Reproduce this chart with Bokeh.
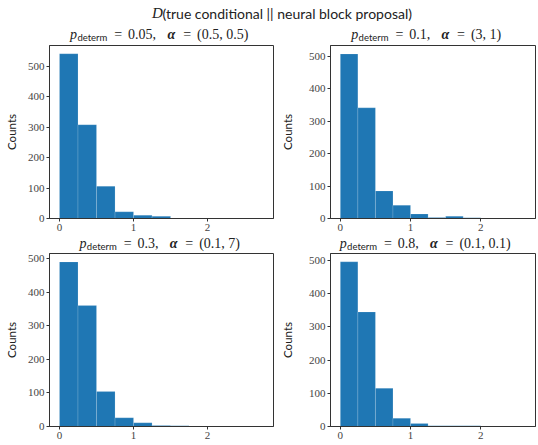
from bokeh.plotting import figure
from bokeh.layouts import column, row
from bokeh.models import Range1d, FixedTicker, Label
from bokeh.embed import file_html
from bokeh.resources import INLINE

# ---------------- data ----------------
bin_edges = [0.0, 0.25, 0.5, 0.75, 1.0, 1.25, 1.5, 1.75, 2.0, 2.25, 2.5, 2.75]
counts_a = [541, 308, 106, 22, 11, 7, 2, 0, 0, 0, 0]
counts_b = [507, 341, 85, 41, 14, 3, 7, 2, 0, 0, 0]
counts_c = [490, 360, 104, 26, 11, 3, 2, 0, 0, 0, 0]
counts_d = [496, 345, 115, 25, 9, 2, 2, 2, 0, 0, 0]
p_determ = ["0.05", "0.1", "0.3", "0.8"]
alphas = ["(0.5, 0.5)", "(3, 1)", "(0.1, 7)", "(0.1, 0.1)"]
x_ticks = [0, 1, 2]
y_ticks = [0, 100, 200, 300, 400, 500]
x_limits = [(-0.135, 2.89), (-0.14, 2.78), (-0.135, 2.89), (-0.14, 2.78)]
y_max = [568, 533, 515, 521]
sup_title = "(true conditional || neural block proposal)"

# ---------------- styling ----------------
SERIF = "Liberation Serif"
SANS = "Lato"
BAR = "#1f77b4"
INK = "#333333"
TXT = "#222222"
FS = 14.0      # title glyph size
EM = 14.8      # spacing unit used to lay title tokens out
MID = 0.32     # baseline -> middle of text box, in em

cm_w = {'0': .5, '1': .5, '2': .5, '3': .5, '4': .5, '5': .5, '6': .5,
        '7': .5, '8': .5, '9': .5, '.': .278, ',': .278, '(': .389, ')': .389}


def cm_width(s):
    return sum(cm_w.get(c, .5) for c in s if c != ' ') * EM


def strip(width, height):
    p = figure(width=width, height=height, x_range=Range1d(0, width),
               y_range=Range1d(0, height), output_backend="svg",
               toolbar_location=None, min_border=0, title=None,
               x_axis_type=None, y_axis_type=None)
    p.grid.visible = False
    p.outline_line_color = None
    return p


def lab(p, h, x, base, text, font, style, size, align="left"):
    # base: baseline position measured from the strip's top, in pixels
    y = h - (base - MID * size)
    p.add_layout(Label(x=x, y=y, text=text, text_font=font, text_font_style=style,
                       text_font_size=f"{size:.1f}px", text_color=TXT,
                       text_align=align, text_baseline="middle"))


def title_strip(width, height, center, base, pd, al):
    p = strip(width, height)
    sub = 0.68 * FS
    thick = 0.278 * EM
    eq = 0.778 * EM
    w_p = 0.503 * EM
    w_sub = 2.98 * 0.7 * EM
    w_val = cm_width(pd + ",")
    gap = 0.62 * EM
    w_al = 0.66 * EM
    w_par = cm_width(al) + 0.167 * EM * al.count(",")
    total = w_p + w_sub + thick + eq + thick + w_val + gap + w_al + thick + eq + thick + w_par
    x = center - total / 2.0
    lab(p, height, x, base, "p", SERIF, "italic", FS)
    x += w_p
    lab(p, height, x, base + 2.0, "determ", SANS, "normal", sub)
    x += w_sub + thick
    lab(p, height, x + eq / 2, base, "=", SERIF, "normal", FS, "center")
    x += eq + thick
    lab(p, height, x, base, pd + ",", SERIF, "normal", FS)
    x += w_val + gap
    lab(p, height, x, base, "\u03b1", SERIF, "bold italic", FS)
    x += w_al + thick
    lab(p, height, x + eq / 2, base, "=", SERIF, "normal", FS, "center")
    x += eq + thick
    lab(p, height, x, base, al, SERIF, "normal", FS)
    return p


def make_hist(counts, xl, ymax, width, height, left, right, top, bottom, label_gap):
    p = figure(width=width, height=height, title=None,
               x_range=Range1d(*xl), y_range=Range1d(0, ymax),
               output_backend="svg", toolbar_location=None,
               min_border_left=left, min_border_right=right,
               min_border_top=top, min_border_bottom=bottom,
               background_fill_color="white", border_fill_color="white")
    lefts = [bin_edges[i] for i, c in enumerate(counts) if c > 0]
    rights = [bin_edges[i + 1] for i, c in enumerate(counts) if c > 0]
    tops = [c for c in counts if c > 0]
    p.quad(left=lefts, right=rights, top=tops, bottom=0,
           fill_color=BAR, line_color="white", line_alpha=0.25, line_width=0.6)
    p.grid.visible = False
    p.outline_line_color = INK
    p.outline_line_width = 1
    p.xaxis.ticker = FixedTicker(ticks=x_ticks)
    p.yaxis.ticker = FixedTicker(ticks=y_ticks)
    for ax in (p.xaxis[0], p.yaxis[0]):
        ax.axis_line_color = INK
        ax.major_tick_line_color = INK
        ax.minor_tick_line_color = None
        ax.major_tick_in = 0
        ax.major_tick_out = 3
        ax.major_label_standoff = 2
        ax.major_label_text_font = SERIF
        ax.major_label_text_font_size = "11px"
        ax.major_label_text_color = "#444444"
    p.yaxis.axis_label = "Counts"
    p.yaxis.axis_label_text_font = SANS
    p.yaxis.axis_label_text_font_style = "normal"
    p.yaxis.axis_label_text_font_size = "11.5px"
    p.yaxis.axis_label_text_color = TXT
    p.yaxis.axis_label_standoff = label_gap
    return p


# page layout (pixels); the page is drawn from its top-left corner
W_L, W_R = 277, 261
BORDERS = [(49, 4), (42, 3)]            # (left, right) per column
LABEL_GAP = [7, 12]
SUP_H, T1_H, F1_H, T2_H, F2_H = 22, 22, 191, 17, 193
FIG_TB = [(1, 17), (1, 19)]             # (top, bottom) per row
TITLE_BASE = [16.3, 12.3]               # baseline from top of each title strip

sup = strip(W_L + W_R, SUP_H)
lab(sup, SUP_H, 151.5, 17, "D", SERIF, "italic", 15)
lab(sup, SUP_H, 162, 17, sup_title, SANS, "normal", 14)

counts_all = [counts_a, counts_b, counts_c, counts_d]
widths = [W_L, W_R]
strip_h = [T1_H, T2_H]
fig_h = [F1_H, F2_H]
titles, figs = [], []
for i in range(4):
    c, r = i % 2, i // 2
    w = widths[c]
    bl, br = BORDERS[c]
    fw = w - bl - br
    titles.append(title_strip(w, strip_h[r], bl + fw / 2.0, TITLE_BASE[r],
                              p_determ[i], alphas[i]))
    bt, bb = FIG_TB[r]
    figs.append(make_hist(counts_all[i], x_limits[i], y_max[i], w, fig_h[r],
                          bl, br, bt, bb, LABEL_GAP[c]))

layout = column(sup,
                row(titles[0], titles[1]),
                row(figs[0], figs[1]),
                row(titles[2], titles[3]),
                row(figs[2], figs[3]))
open("out.html", "w").write(file_html(layout, INLINE))
